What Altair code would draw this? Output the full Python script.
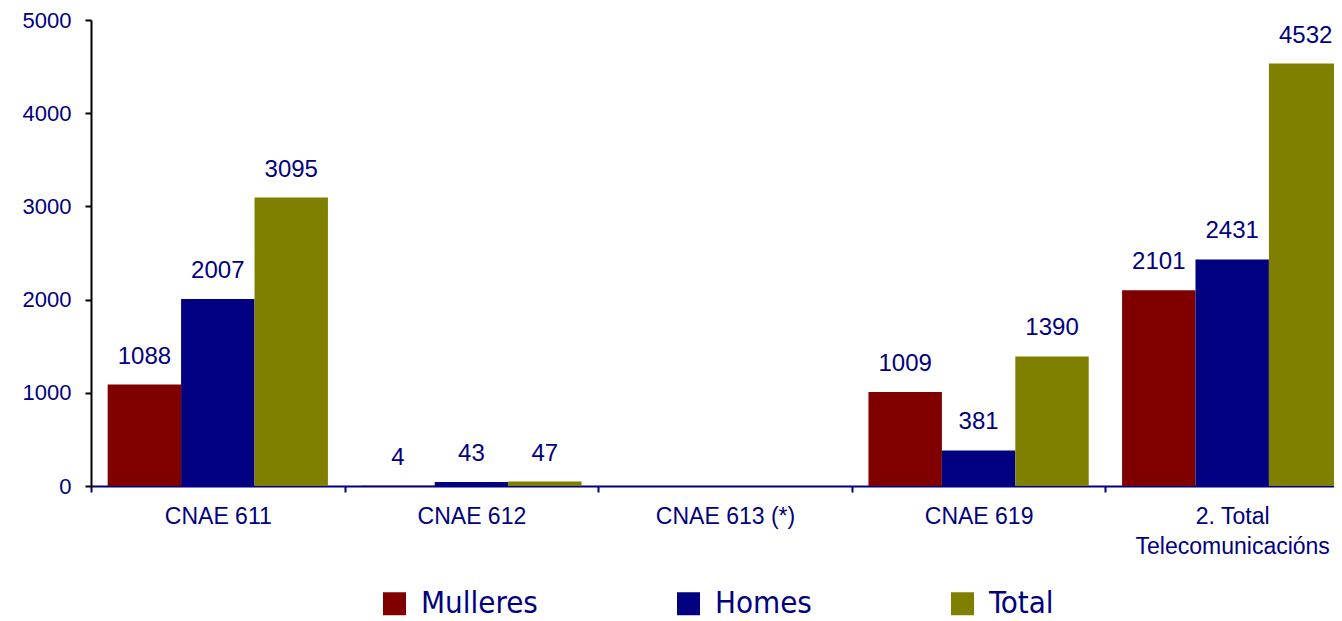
import altair as alt
import pandas as pd

categories = ["CNAE 611", "CNAE 612", "CNAE 613 (*)", "CNAE 619", "2. Total Telecomunicacións"]
series = ["Mulleres", "Homes", "Total"]
mulleres = [1088, 4, None, 1009, 2101]
homes = [2007, 43, None, 381, 2431]
total = [3095, 47, None, 1390, 4532]
colors = ["#800000", "#000080", "#808000"]
y_ticks = [0, 1000, 2000, 3000, 4000, 5000]

rows = []
for s, vals in zip(series, [mulleres, homes, total]):
    for c, v in zip(categories, vals):
        if v is not None:
            rows.append({"cat": c, "serie": s, "valor": v})
df = pd.DataFrame(rows)

NAVY = "#000080"

x = alt.X(
    "cat:N",
    sort=categories,
    scale=alt.Scale(domain=categories, range=[0, 1268], paddingInner=0, paddingOuter=0),
    axis=alt.Axis(
        title=None, labelAngle=0, labelFont="Liberation Sans", labelFontSize=23,
        labelColor=NAVY, domainColor=NAVY, domainWidth=2, tickColor=NAVY,
        tickWidth=2, tickSize=6, tickBand="extent", labelPadding=13,
        labelBaseline="top", labelLineHeight=30, labelLimit=400,
        labelExpr="datum.value == '2. Total Telecomunicacións' ? ['2. Total', 'Telecomunicacións'] : datum.label",
    ),
)
xoff = alt.XOffset(
    "serie:N", sort=series,
    scale=alt.Scale(domain=series, paddingOuter=0.227, paddingInner=0),
)
y = alt.Y(
    "valor:Q",
    scale=alt.Scale(domain=[0, 5000]),
    axis=alt.Axis(
        title=None, values=y_ticks, grid=False, domainColor="black", format="d",
        domainWidth=2, tickColor="black", tickWidth=2, tickSize=6,
        labelFontSize=22, labelColor=NAVY, labelPadding=14,
        labelFont="Liberation Sans",
    ),
)
color = alt.Color(
    "serie:N", sort=series,
    scale=alt.Scale(domain=series, range=colors),
    legend=alt.Legend(
        title=None, orient="none", legendX=288, legendY=568,
        direction="horizontal", symbolType="square", symbolSize=529,
        symbolStrokeWidth=0, symbolOpacity=1,
        labelFont="DejaVu Sans Condensed", labelFontSize=31,
        labelColor=NAVY, labelOffset=11, columnPadding=135,
    ),
)

base = alt.Chart(df)
bars = base.mark_bar().encode(x=x, xOffset=xoff, y=y, color=color)
labels = base.mark_text(
    baseline="alphabetic", dy=-21, font="Liberation Sans", fontSize=24, color=NAVY
).encode(x=x, xOffset=xoff, y=y, text=alt.Text("valor:Q", format="d"))

chart = (
    alt.layer(bars, labels)
    .properties(
        width=1243, height=466,
        autosize=alt.AutoSizeParams(type="none"),
        padding={"left": 83, "top": 12, "right": 0, "bottom": 135},
        background="white",
    )
    .configure_view(stroke=None)
)

chart.save("out.html", embed_options={"renderer": "svg", "actions": False})
